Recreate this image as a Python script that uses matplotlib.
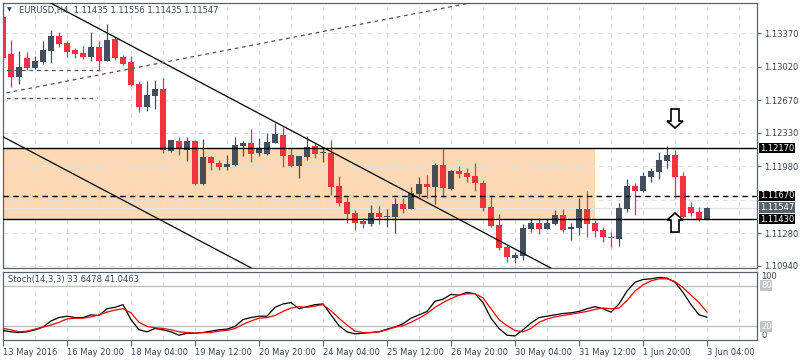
import numpy as np
import matplotlib
matplotlib.use("Agg")
import matplotlib.pyplot as plt
import matplotlib.transforms as mtransforms
from matplotlib.patches import Polygon, Rectangle

plt.rcParams['font.family'] = ['DejaVu Sans']

# ---------------- data ----------------
symbol_title = "EURUSD,H4  1.11435 1.11556 1.11435 1.11547"
stoch_title = "Stoch(14,3,3) 33.6478 41.0463"

opens = [1.13537, 1.13151, 1.12911, 1.13109, 1.13005, 1.13067, 1.13182, 1.13339, 1.13266, 1.13193,
         1.13161, 1.13119, 1.13224, 1.13078, 1.13307, 1.13119, 1.13067, 1.12838, 1.12598, 1.12713,
         1.12786, 1.12139, 1.12243, 1.12150, 1.12243, 1.11795, 1.12076, 1.12014, 1.11972, 1.11993,
         1.12191, 1.12223, 1.12118, 1.12108, 1.12223, 1.12306, 1.12097, 1.11983, 1.12076, 1.12191,
         1.12118, 1.12118, 1.11774, 1.11607, 1.11492, 1.11409, 1.11378, 1.11492, 1.11451, 1.11451,
         1.11586, 1.11534, 1.11691, 1.11795, 1.11764, 1.11993, 1.11743, 1.11930, 1.11910, 1.11878,
         1.11805, 1.11555, 1.11367, 1.11138, 1.11023, 1.11044, 1.11326, 1.11388, 1.11326, 1.11378,
         1.11472, 1.11326, 1.11336, 1.11534, 1.11388, 1.11315, 1.11242, 1.11221, 1.11534, 1.11774,
         1.11722, 1.11868, 1.11920, 1.12035, 1.12097, 1.11878, 1.11555, 1.11503, 1.11435]
highs = [1.13558, 1.13297, 1.13182, 1.13172, 1.13130, 1.13286, 1.13401, 1.13380, 1.13286, 1.13213,
         1.13234, 1.13380, 1.13286, 1.13464, 1.13328, 1.13140, 1.13130, 1.12869, 1.12869, 1.12880,
         1.12900, 1.12254, 1.12285, 1.12285, 1.12254, 1.12264, 1.12087, 1.12045, 1.12097, 1.12285,
         1.12243, 1.12369, 1.12275, 1.12327, 1.12431, 1.12389, 1.12170, 1.12087, 1.12296, 1.12223,
         1.12181, 1.12254, 1.11878, 1.11659, 1.11524, 1.11440, 1.11576, 1.11565, 1.11534, 1.11649,
         1.11649, 1.11764, 1.11868, 1.11889, 1.12014, 1.12160, 1.11941, 1.11983, 1.11962, 1.12014,
         1.11837, 1.11659, 1.11482, 1.11159, 1.11086, 1.11378, 1.11430, 1.11440, 1.11430, 1.11524,
         1.11534, 1.11388, 1.11649, 1.11722, 1.11419, 1.11346, 1.11294, 1.11597, 1.11847, 1.11805,
         1.11920, 1.11962, 1.12129, 1.12191, 1.12150, 1.11920, 1.11607, 1.11555, 1.11556]
lows = [1.13057, 1.12807, 1.12838, 1.12984, 1.12994, 1.13046, 1.13057, 1.13224, 1.13119, 1.13109,
        1.13099, 1.13078, 1.12984, 1.13078, 1.13088, 1.13036, 1.12817, 1.12546, 1.12556, 1.12577,
        1.12118, 1.12129, 1.12097, 1.12035, 1.11784, 1.11784, 1.11941, 1.11941, 1.11941, 1.11983,
        1.12087, 1.12024, 1.12087, 1.12097, 1.12223, 1.11972, 1.11972, 1.11857, 1.12045, 1.12066,
        1.12024, 1.11680, 1.11565, 1.11388, 1.11315, 1.11336, 1.11357, 1.11378, 1.11346, 1.11284,
        1.11492, 1.11534, 1.11659, 1.11649, 1.11586, 1.11659, 1.11732, 1.11857, 1.11816, 1.11722,
        1.11513, 1.11346, 1.11107, 1.10981, 1.10971, 1.11002, 1.11294, 1.11273, 1.11326, 1.11367,
        1.11294, 1.11211, 1.11263, 1.11242, 1.11242, 1.11190, 1.11138, 1.11148, 1.11503, 1.11472,
        1.11711, 1.11816, 1.11847, 1.11962, 1.11649, 1.11440, 1.11461, 1.11409, 1.11435]
closes = [1.13109, 1.12911, 1.13015, 1.13005, 1.13078, 1.13193, 1.13339, 1.13255, 1.13172, 1.13151,
          1.13119, 1.13224, 1.13078, 1.13297, 1.13109, 1.13046, 1.12827, 1.12598, 1.12723, 1.12786,
          1.12150, 1.12254, 1.12170, 1.12243, 1.11795, 1.12076, 1.12014, 1.11972, 1.12003, 1.12202,
          1.12223, 1.12108, 1.12170, 1.12233, 1.12316, 1.12087, 1.11983, 1.12087, 1.12181, 1.12108,
          1.12129, 1.11764, 1.11597, 1.11482, 1.11388, 1.11378, 1.11492, 1.11451, 1.11461, 1.11586,
          1.11534, 1.11701, 1.11795, 1.11764, 1.11993, 1.11753, 1.11930, 1.11899, 1.11868, 1.11805,
          1.11545, 1.11357, 1.11127, 1.11033, 1.11054, 1.11336, 1.11388, 1.11326, 1.11388, 1.11472,
          1.11315, 1.11346, 1.11534, 1.11378, 1.11305, 1.11242, 1.11232, 1.11545, 1.11774, 1.11722,
          1.11878, 1.11930, 1.12045, 1.12097, 1.11868, 1.11451, 1.11492, 1.11430, 1.11547]

stoch_k = [14, 12, 11, 12, 15, 19, 28, 33, 35, 33,
           33, 37, 36, 46, 48, 52, 30, 15, 12, 17,
           15, 12, 7, 10, 10, 11, 13, 15, 16, 20,
           30, 33, 35, 35, 48, 53, 55, 46, 49, 52,
           53, 37, 21, 12, 9, 10, 11, 12, 16, 19,
           24, 32, 37, 42, 57, 60, 67, 66, 70, 68,
           55, 32, 17, 7, 6, 15, 25, 33, 35, 37,
           39, 40, 42, 46, 49, 46, 41, 53, 72, 85,
           89, 90, 92, 91, 85, 70, 52, 37, 33.6478]
stoch_d = [17, 15, 12, 13, 16, 19, 22, 26, 31, 32,
           32, 34, 37, 41, 44, 46, 40, 26, 20, 18,
           17, 15, 12, 11, 10, 11, 11, 13, 14, 17,
           23, 28, 32, 33, 36, 42, 47, 49, 48, 50,
           52, 43, 32, 22, 13, 11, 11, 12, 15, 19,
           21, 26, 32, 39, 48, 55, 61, 66, 68, 68,
           62, 46, 30, 21, 14, 12, 17, 26, 31, 34,
           36, 38, 40, 42, 45, 47, 46, 47, 58, 72,
           81, 87, 90, 90, 86, 77, 66, 55, 41.0463]

x_tick_bars = [0, 8, 16, 24, 32, 40, 48, 56, 64, 72, 80, 88]
x_tick_labels = ["13 May 2016", "16 May 20:00", "18 May 04:00", "19 May 12:00",
                 "20 May 20:00", "24 May 04:00", "25 May 12:00", "26 May 20:00",
                 "30 May 04:00", "31 May 12:00", "1 Jun 20:00", "3 Jun 04:00"]
price_ticks = [1.13370, 1.13020, 1.12670, 1.12330, 1.11980, 1.11630, 1.11280, 1.10940]
price_tick_labels = ["1.13370", "1.13020", "1.12670", "1.12330", "1.11980", "", "1.11280", "1.10940"]

resistance = 1.12170
pivot = 1.11670
support = 1.11430
bid = 1.11547
zone_end_bar = 74

# trendline anchors (bar index, price)
trend_down_main = [(5.875, 1.13686), (64.625, 1.11089)]
trend_down_lower = [(0.0, 1.12288), (28.75, 1.11020)]
trend_up_dashed = [(0.0, 1.12739), (58.375, 1.13683)]
hdash_levels = [(12.1, 1.12984), (11.75, 1.12692)]   # (end bar, price)

arrow_bar = 84
arrow_down_tip = 1.12379
arrow_up_tip = 1.11492

# ---------------- style ----------------
BULL = '#434f5d'
BEAR = '#f2333f'
FRAME = '#56616c'
GRID = '#e1e1e1'
TXT = '#3b4654'
ZONE = '#fdd9b5'

W, H = 800, 360
fig = plt.figure(figsize=(W / 100, H / 100), dpi=100)


def frac(x0, y0, x1, y1):
    return [x0 / W, 1 - y1 / H, (x1 - x0) / W, (y1 - y0) / H]


ax = fig.add_axes(frac(3, 3, 757, 268))
ax2 = fig.add_axes(frac(3, 272, 757, 340))

n = len(opens)
idx = np.arange(n)
o = np.array(opens); h = np.array(highs); l = np.array(lows); c = np.array(closes)
bull = c >= o
cols = np.where(bull, BULL, BEAR)

x_left, x_right = 0, 754 / 8
ax.set_xlim(x_left, x_right)
ax.set_ylim(1.10919, 1.13683)

# background zone
ax.add_patch(Rectangle((-2, support), zone_end_bar + 2, resistance - support,
                       facecolor=ZONE, edgecolor='none', zorder=0))

# grid
for p in price_ticks:
    ax.axhline(p, color=GRID, lw=0.8, ls=(0, (4, 4)), zorder=1)
for b in range(0, 96, 4):
    ax.axvline(b, color=GRID, lw=0.8, ls=(0, (4, 4)), zorder=1)

# candles
ax.vlines(idx, l, h, colors=cols, lw=0.9, zorder=4)
body_lo = np.minimum(o, c)
body_h = np.maximum(np.abs(c - o), 0.00009)
ax.bar(idx, body_h, bottom=body_lo, width=0.64, color=cols, lw=0, zorder=5)

# horizontal levels
ax.axhline(bid, color='#e4e4e4', lw=1.0, zorder=2)
ax.axhline(resistance, color='black', lw=1.0, zorder=6)
ax.axhline(support, color='black', lw=1.0, zorder=6)
ax.axhline(pivot, color='black', lw=1.0, ls=(0, (4, 3)), zorder=6)


def ray(pts, **kw):
    (x0, y0), (x1, y1) = pts
    xs = np.array([-5, 100])
    ys = y0 + (y1 - y0) * (xs - x0) / (x1 - x0)
    ax.plot(xs, ys, **kw)


ray(trend_down_main, color='black', lw=0.9, zorder=6)
ray(trend_down_lower, color='black', lw=0.9, zorder=6)
ray(trend_up_dashed, color='#555555', lw=0.9, ls=(0, (3, 3)), zorder=6)
for end_bar, p in hdash_levels:
    ax.plot([-2, end_bar], [p, p], color='#555555', lw=0.9, ls=(0, (3, 3)), zorder=6)

# arrows (shape in pixels relative to tip)
up_shape = np.array([(0, 0), (8, -7), (4, -7), (4, -19), (-4, -19), (-4, -7), (-8, -7)]) / 100.0
for tip, sgn in [(arrow_up_tip, 1), (arrow_down_tip, -1)]:
    tr = fig.dpi_scale_trans + mtransforms.ScaledTranslation(arrow_bar, tip, ax.transData)
    shape = up_shape.copy()
    shape[:, 1] *= sgn
    ax.add_patch(Polygon(shape, closed=True, transform=tr, facecolor='white',
                         edgecolor='black', lw=1.2, zorder=8, clip_on=False))

# axes styling
ax.set_xticks([])
ax.yaxis.tick_right()
ax.set_yticks(price_ticks)
ax.set_yticklabels(price_tick_labels)
ax.tick_params(axis='y', direction='out', length=3, width=0.8, colors=FRAME,
               labelcolor=TXT, labelsize=6, pad=2)
for s in ax.spines.values():
    s.set_color(FRAME); s.set_linewidth(0.9)

# right-hand price boxes
ytr = ax.get_yaxis_transform()
for p, fc in [(resistance, 'black'), (pivot, 'black'), (bid, '#56636f'), (support, 'black')]:
    ax.text(1.0 + 3 / 754, p, f"{p:.5f}", transform=ytr, ha='left', va='center',
            fontsize=6, color='white', zorder=10, clip_on=False,
            bbox=dict(boxstyle='square,pad=0.1', fc=fc, ec='none'))

# title
fig.text(7 / W, 1 - 10 / H, '\u25bc', fontsize=4.5, color=TXT, va='center', ha='left')
fig.text(19 / W, 1 - 10 / H, symbol_title, fontsize=6, color=TXT, va='center', ha='left')

# ---------------- stochastic ----------------
ax2.set_xlim(x_left, x_right)
ax2.set_ylim(0, 100)
for b in range(0, 96, 4):
    ax2.axvline(b, color=GRID, lw=0.8, ls=(0, (4, 4)), zorder=1)
ax2.axhline(80, color='#bdbdbd', lw=0.9, zorder=2)
ax2.axhline(20, color='#bdbdbd', lw=0.9, zorder=2)
ax2.plot(idx, stoch_k, color='black', lw=0.9, zorder=4)
ax2.plot(idx, stoch_d, color='red', lw=0.9, zorder=5)
ax2.text(5 / 754, 0.89, stoch_title, transform=ax2.transAxes, fontsize=6,
         color=TXT, ha='left', va='center')
ax2.set_yticks([])
ytr2 = ax2.get_yaxis_transform()
ax2.text(1.0 + 4 / 754, 100, '100', transform=ytr2, ha='left', va='top', fontsize=6,
         color=TXT, clip_on=False)
ax2.text(1.0 + 4 / 754, 0, '0', transform=ytr2, ha='left', va='bottom', fontsize=6,
         color=TXT, clip_on=False)
for v in (80, 20):
    ax2.text(1.0 + 4 / 754, v, str(v), transform=ytr2, ha='left', va='center', fontsize=6,
             color='white', clip_on=False,
             bbox=dict(boxstyle='square,pad=0.1', fc='#c4c4c4', ec='none'))
ax2.set_xticks(x_tick_bars)
ax2.set_xticklabels(x_tick_labels, ha='left')
ax2.tick_params(axis='x', direction='out', length=4, width=0.8, colors=FRAME,
                labelcolor=TXT, labelsize=6, pad=1.5)
for s in ax2.spines.values():
    s.set_color(FRAME); s.set_linewidth(0.9)

fig.savefig('out.png', dpi=100, facecolor='white')
